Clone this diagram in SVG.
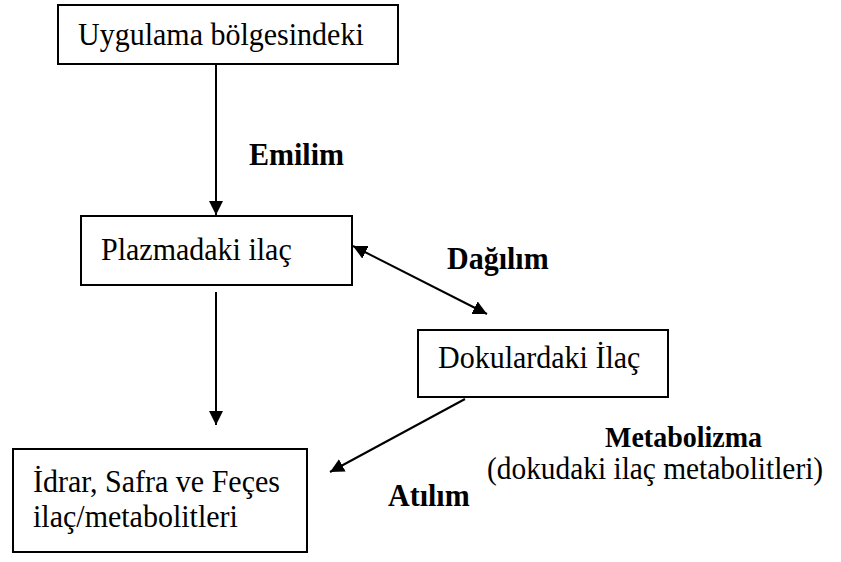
<svg xmlns="http://www.w3.org/2000/svg" width="841" height="562" viewBox="0 0 841 562">
<style>
.box{fill:#fff;stroke:#000;stroke-width:2}
.t{font-family:"Liberation Serif","Times New Roman",serif;font-size:30px;fill:#000}
.b{font-weight:bold}
.c{stroke:#000;stroke-width:2;fill:none}
</style>
<defs>
<marker id="ah" viewBox="0 0 14 14" refX="14" refY="7" markerWidth="14" markerHeight="14" markerUnits="userSpaceOnUse" orient="auto-start-reverse">
<path d="M0,0 L14,7 L0,14 Z" fill="#000"/>
</marker>
</defs>
<rect width="841" height="562" fill="#fff"/>
<g id="n1"><rect class="box" x="58" y="5" width="340" height="59"/><text class="t" transform="translate(78,45) scale(1,1.08)">Uygulama bölgesindeki</text></g>
<g id="n2"><rect class="box" x="81" y="216" width="271" height="69"/><text class="t" transform="translate(101,260) scale(1,1.08)">Plazmadaki ilaç</text></g>
<g id="n3"><rect class="box" x="418" y="330" width="250" height="67"/><text class="t" transform="translate(438,368) scale(1,1.08)">Dokulardaki İlaç</text></g>
<g id="n4"><rect class="box" x="13" y="449" width="294" height="103"/><text class="t" transform="translate(33,492) scale(1,1.08)">İdrar, Safra ve Feçes</text><text class="t" transform="translate(33,527) scale(1,1.08)">ilaç/metabolitleri</text></g>
<g id="connectors">
<line class="c" x1="216" y1="65" x2="216" y2="215" marker-end="url(#ah)"/>
<line class="c" x1="216" y1="292" x2="216" y2="425" marker-end="url(#ah)"/>
<line class="c" x1="353" y1="246" x2="487" y2="314" marker-start="url(#ah)" marker-end="url(#ah)"/>
<line class="c" x1="465" y1="399" x2="330" y2="472" marker-end="url(#ah)"/>
</g>
<g id="labels">
<text class="t b" transform="translate(249,165) scale(1,1.08)">Emilim</text>
<text class="t b" transform="translate(447,269) scale(1,1.08)">Dağılım</text>
<text class="t b" transform="translate(605,447) scale(1,1.08)" style="font-size:28px">Metabolizma</text>
<text class="t" transform="translate(487,479) scale(1,1.08)" style="font-size:29.4px">(dokudaki ilaç metabolitleri)</text>
<text class="t b" transform="translate(388,506) scale(1,1.08)">Atılım</text>
</g>
</svg>
